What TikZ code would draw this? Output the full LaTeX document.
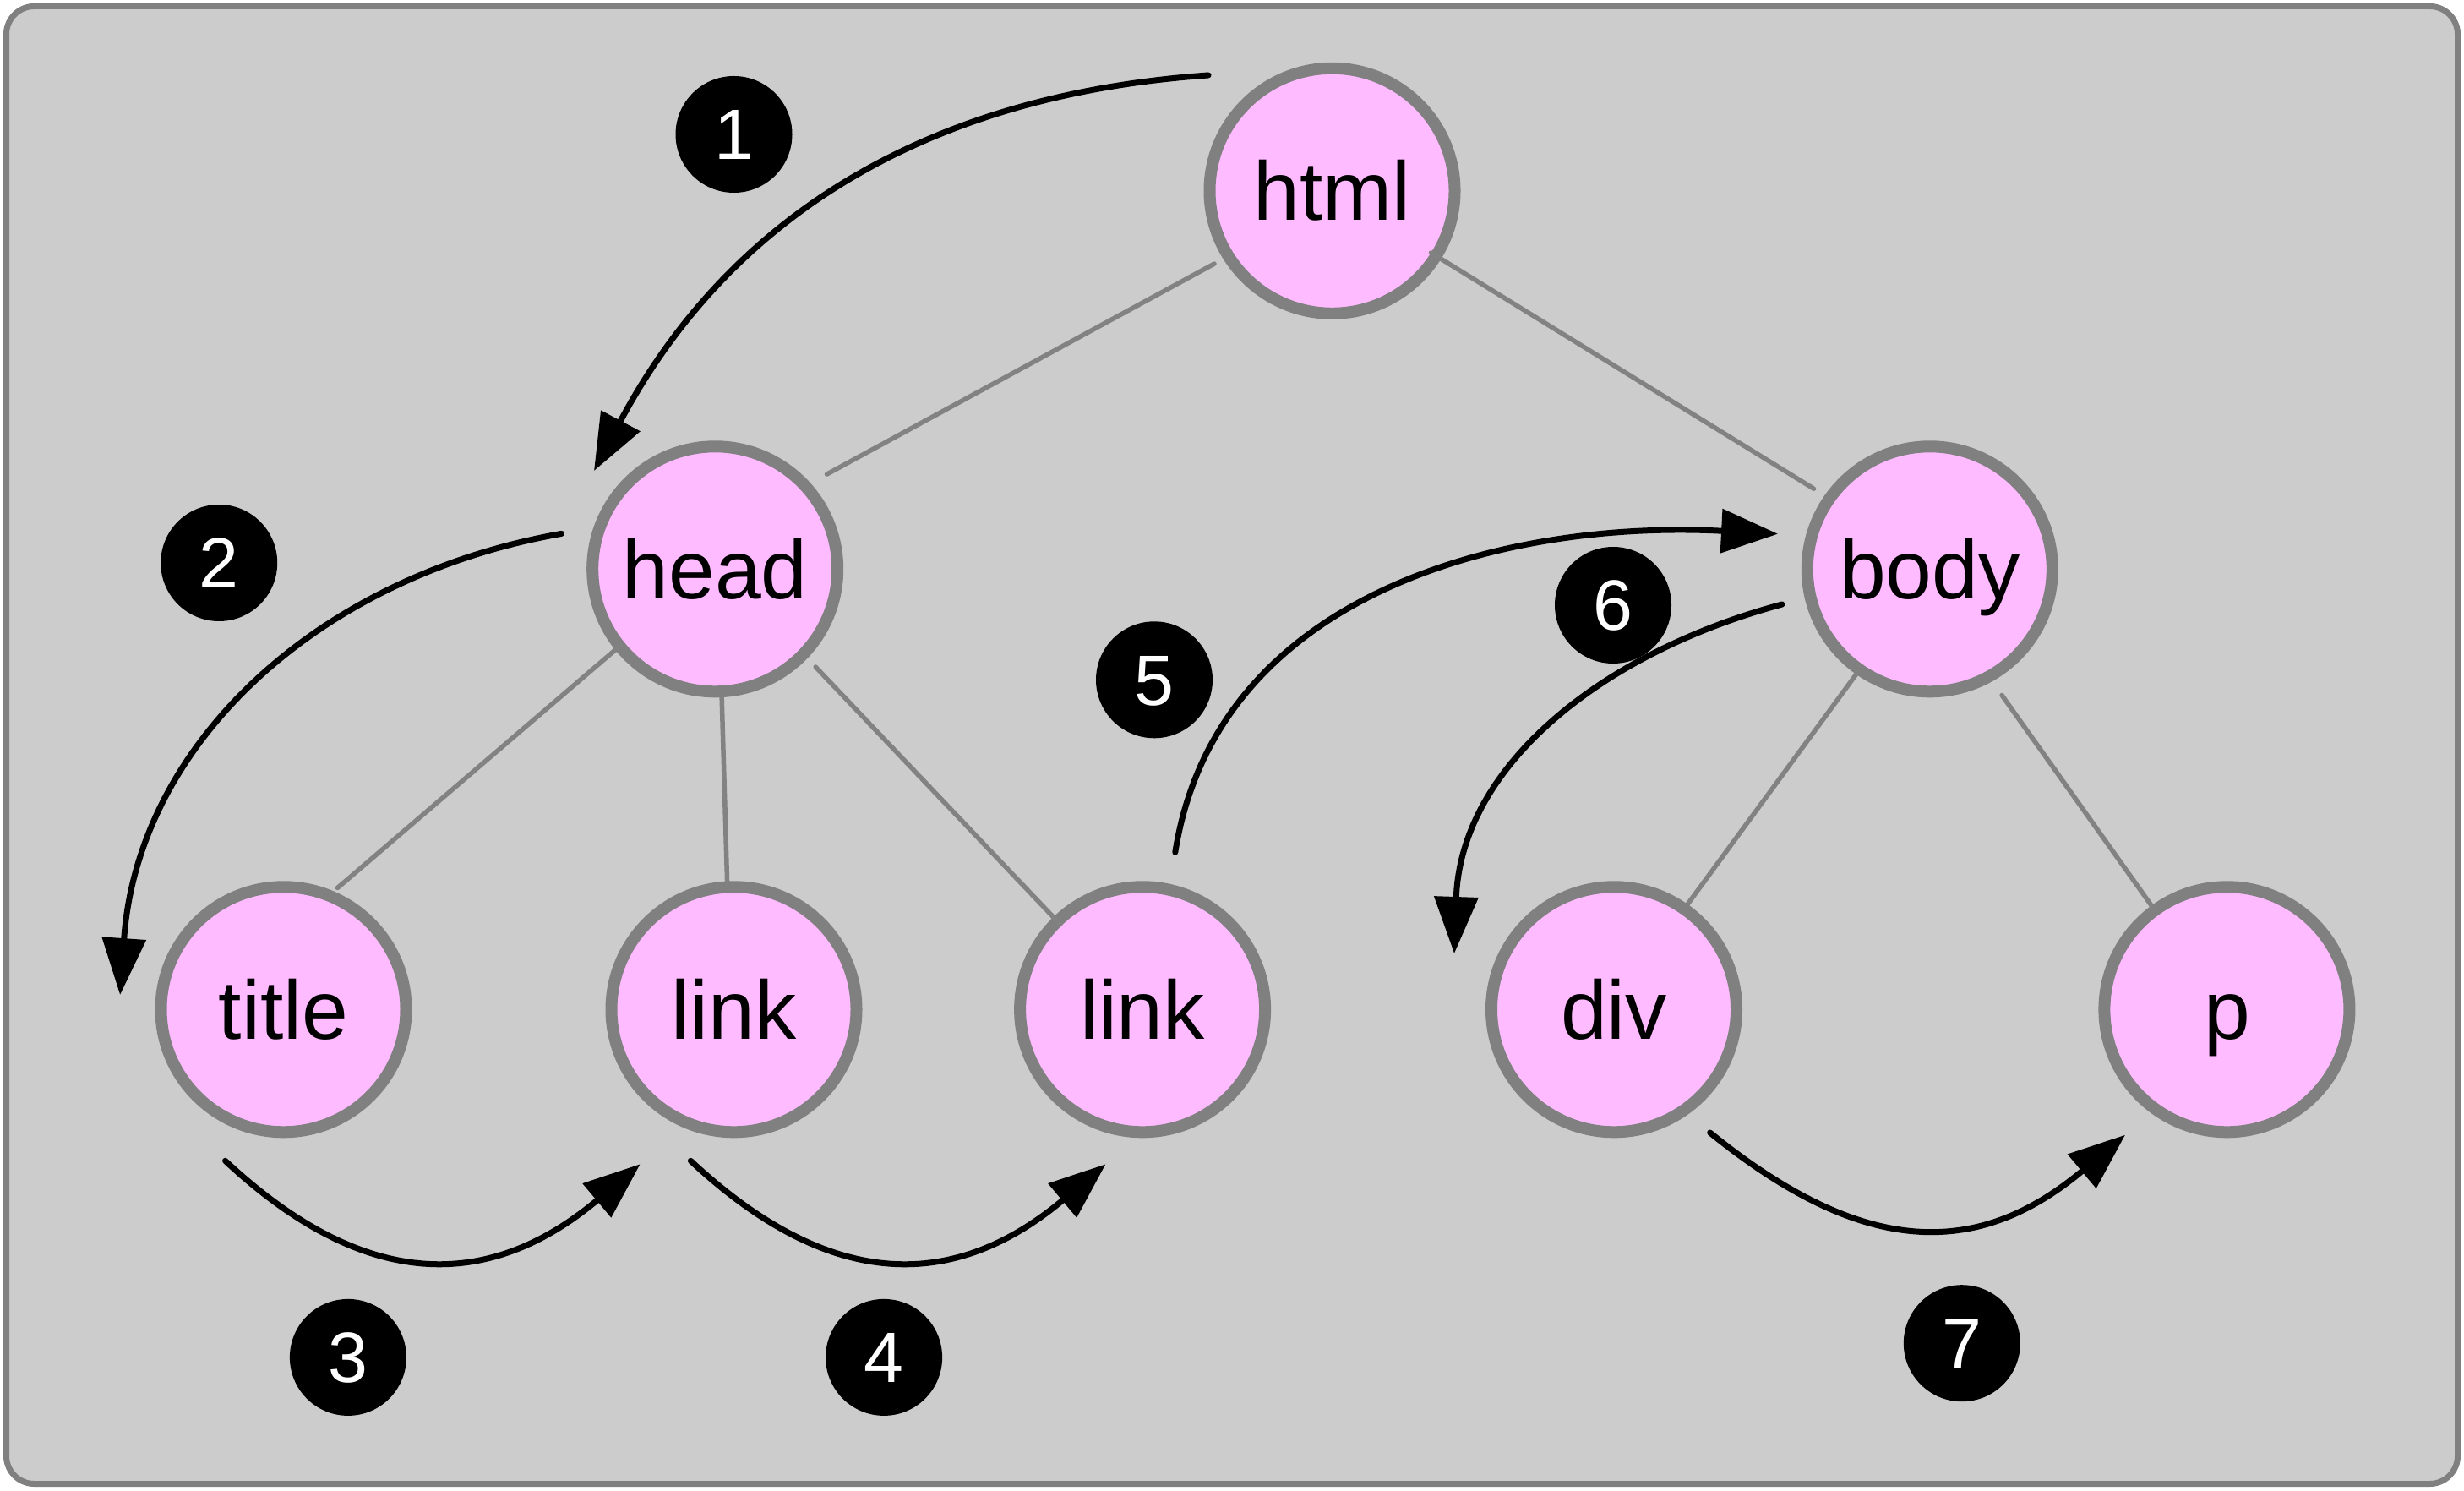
\documentclass[tikz,border=0pt]{standalone}
\usepackage{fontspec}
\setmainfont{Liberation Sans}
\usetikzlibrary{arrows.meta, positioning, calc}
\definecolor{bggray}{RGB}{204,204,204}
\definecolor{framegray}{RGB}{128,128,128}
\definecolor{edgegray}{RGB}{130,130,130}
\definecolor{nodepink}{RGB}{255,187,255}
\tikzset{
    domnode/.style={circle, draw=framegray, fill=nodepink, line width=0.14cm, minimum size=2.9cm, inner sep=0pt, text height=20pt, text depth=0pt, font=\fontsize{28}{32}\selectfont},
    stepnum/.style={circle, fill=black, text=white, minimum size=1.38cm, inner sep=0pt, text height=17pt, text depth=0pt, font=\fontsize{24}{28}\selectfont},
    treeedge/.style={draw=edgegray, line width=0.055cm, line cap=round},
    walkarrow/.style={-{Triangle[length=6.7mm, width=5.1mm]}, line width=0.07cm, line cap=round}
}

\begin{document}
\begin{tikzpicture}[on grid]

\useasboundingbox (0,0) rectangle (29.16,17.63);
\draw[framegray, fill=bggray, line width=0.07cm, rounded corners=0.33cm] (0.075,0.075) rectangle (29.085,17.555);

% DOM tree
\node[domnode] (html) at (15.765,15.372) {html};
\node[domnode, below left=4.475cm and 7.303cm of html] (head) {head};
\node[domnode, below right=4.475cm and 7.073cm of html] (body) {body};
\node[domnode, below left=5.21cm and 5.107cm of head] (title) {title};
\node[domnode, right=5.33cm of title] (link1) {link};
\node[domnode, right=4.836cm of link1] (link2) {link};
\node[domnode, right=5.579cm of link2] (div) {div};
\node[domnode, right=7.254cm of div] (p) {p};

\draw[treeedge, shorten <=0.12cm, shorten >=0.22cm] (html.212) -- (head.42);
\draw[treeedge, shorten <=-0.14cm, shorten >=0.15cm] (html.-32) -- (body.145);
\draw[treeedge, shorten <=-0.08cm, shorten >=0.06cm] (head.219) -- (title.67);
\draw[treeedge] (head.273) -- (link1.93);
\draw[treeedge, shorten <=0.14cm, shorten >=-0.12cm] (head.316) -- (link2.134);
\draw[treeedge] (body.235) -- (div.55);
\draw[treeedge, shorten <=0.2cm, shorten >=-0.04cm] (body.299) -- (p.126);

% walk order
\node[stepnum] (n1) at (8.685,16.04) {1};
\node[stepnum] (n2) at (2.592,10.97) {2};
\node[stepnum] (n3) at (4.119,1.571) {3};
\node[stepnum] (n4) at (10.461,1.571) {4};
\node[stepnum] (n5) at (13.66,9.587) {5};
\node[stepnum] (n6) at (19.09,10.47) {6};
\node[stepnum] (n7) at (23.218,1.738) {7};

\draw[walkarrow] ($(html)+(-1.465,1.368)$) to[out=184, in=62] ($(head)+(-1.432,1.163)$);
\draw[walkarrow] ($(head)+(-1.817,0.419)$) to[out=190, in=86] ($(title)+(-1.934,0.173)$);
\draw[walkarrow] ($(title)+(-0.69,-1.79)$) to[out=-43, in=220, looseness=1.2] ($(link1)+(-1.109,-1.83)$);
\draw[walkarrow] ($(link1)+(-0.512,-1.79)$) to[out=-43, in=220, looseness=1.2] ($(link2)+(-0.436,-1.83)$);
\draw[walkarrow] ($(link2)+(0.387,1.86)$) to[out=81, in=177] ($(body)+(-1.798,0.416)$);
\draw[walkarrow] ($(body)+(-1.748,-0.417)$) to[out=195, in=88] ($(div)+(-1.89,0.663)$);
\draw[walkarrow] ($(div)+(1.136,-1.457)$) to[out=-39, in=220, looseness=1.2] ($(p)+(-1.204,-1.484)$);

\end{tikzpicture}
\end{document}
